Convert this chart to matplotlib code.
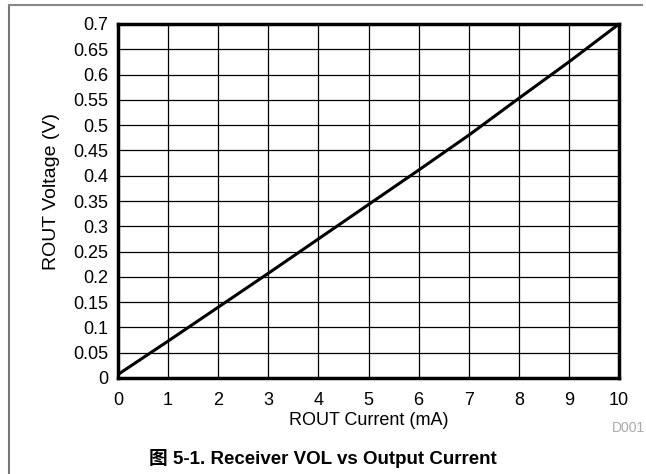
import numpy as np
import matplotlib.pyplot as plt
from matplotlib.lines import Line2D

# Data
current_ma = [0, 1, 2, 3, 4, 5, 6, 7, 8, 9, 10]
rout_voltage = [0.007, 0.073, 0.140, 0.207, 0.275, 0.343, 0.411, 0.480, 0.553, 0.625, 0.700]
xticks = list(range(0, 11))
yticks = [round(0.05 * i, 2) for i in range(15)]
ytick_labels = ['0', '0.05', '0.1', '0.15', '0.2', '0.25', '0.3', '0.35', '0.4',
                '0.45', '0.5', '0.55', '0.6', '0.65', '0.7']

plt.rcParams['font.family'] = ['Liberation Sans', 'Noto Sans CJK SC', 'DejaVu Sans']

fig = plt.figure(figsize=(6.46, 4.74), dpi=100)
ax = fig.add_axes([118 / 646, 1 - 378 / 474, (619 - 118) / 646, (378 - 24) / 474])

ax.plot(current_ma, rout_voltage, color='black', linewidth=2.2, solid_capstyle='butt')

ax.set_xlim(0, 10)
ax.set_ylim(0, 0.7)
ax.set_xticks(xticks)
ax.set_yticks(yticks)
ax.set_yticklabels(ytick_labels)
ax.tick_params(axis='both', length=0, labelsize=13)
ax.tick_params(axis='x', pad=10)
ax.tick_params(axis='y', pad=7)
ax.grid(True, color='black', linewidth=0.9)
ax.set_axisbelow(True)
for s in ax.spines.values():
    s.set_linewidth(2.5)

ax.set_xlabel('ROUT Current (mA)', fontsize=13, labelpad=2)
ax.set_ylabel('ROUT Voltage (V)', fontsize=14)
ax.yaxis.set_label_coords(-0.116, 0.528)

fig.text(0.5, 1 - 458 / 474, '图 5-1. Receiver VOL vs Output Current',
         ha='center', va='center', fontsize=13.5, fontweight='bold')
fig.text(628 / 646, 1 - 428 / 474, 'D001', ha='center', va='center',
         fontsize=10, color='#aaaaaa')

# figure frame (left and top only)
fig.add_artist(Line2D([9 / 646, 9 / 646], [0, 1 - 5 / 474], transform=fig.transFigure,
                      color='#777777', linewidth=1.5))
fig.add_artist(Line2D([9 / 646, 642 / 646], [1 - 5 / 474, 1 - 5 / 474], transform=fig.transFigure,
                      color='#888888', linewidth=1.5))

fig.savefig('out.png', dpi=100)
